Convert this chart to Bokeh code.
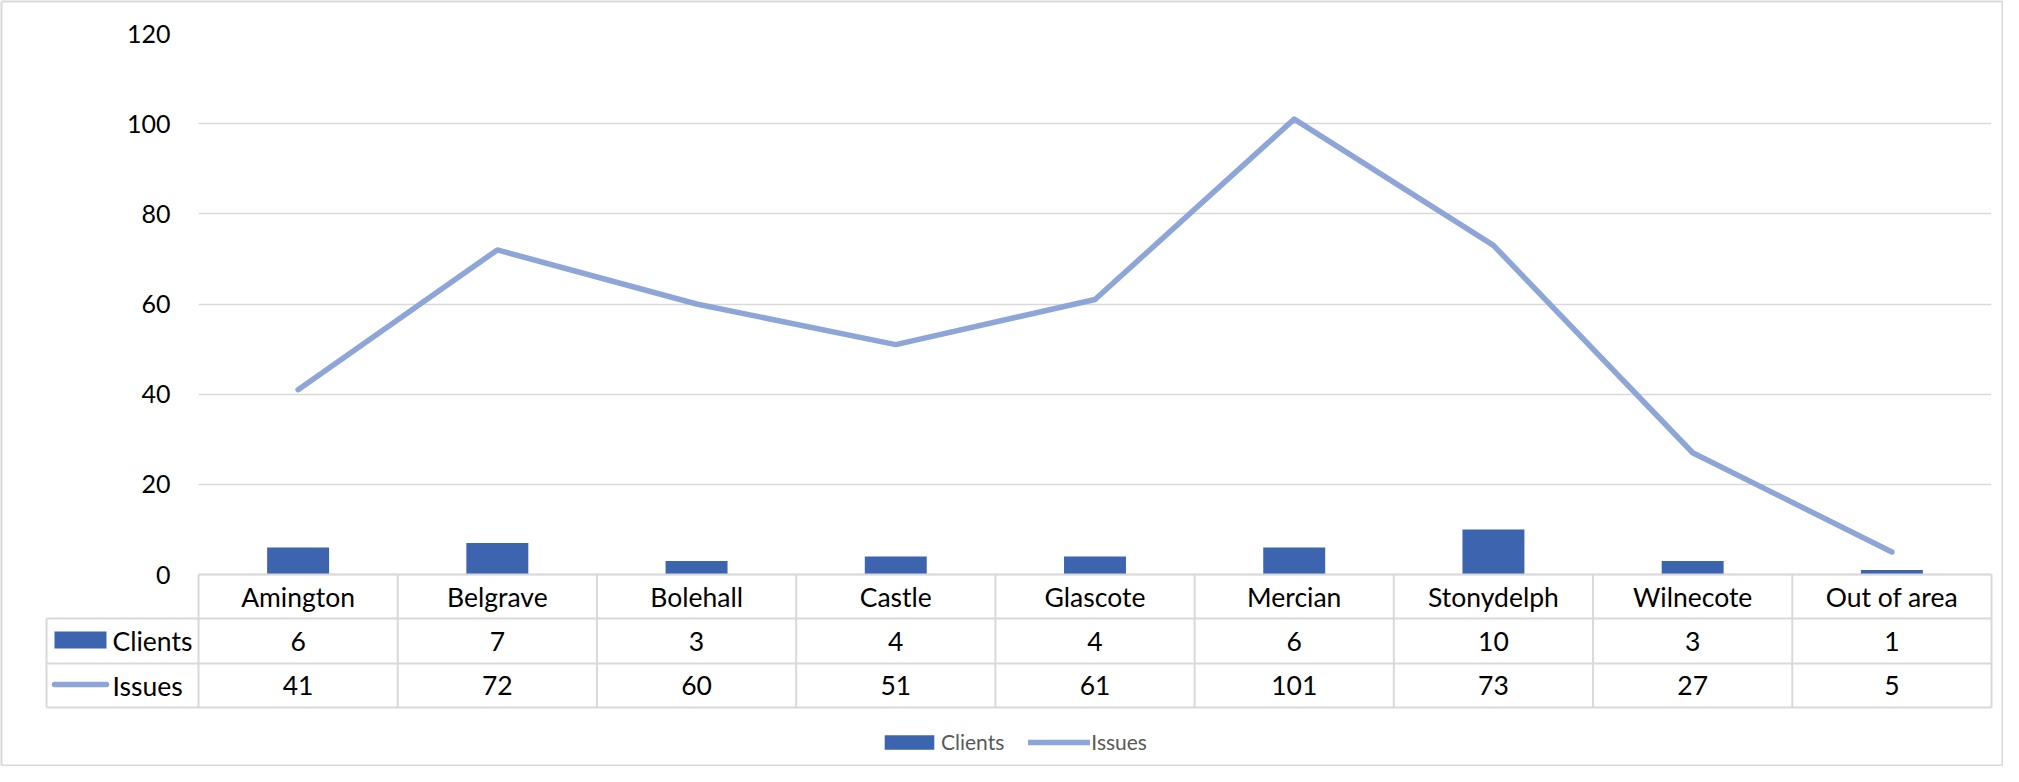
from bokeh.plotting import figure
from bokeh.models import Range1d, FixedTicker, Legend, LegendItem, ColumnDataSource
from bokeh.core.properties import value
from bokeh.embed import file_html
from bokeh.resources import INLINE

# ---------------- data ----------------
categories = ["Amington", "Belgrave", "Bolehall", "Castle", "Glascote",
              "Mercian", "Stonydelph", "Wilnecote", "Out of area"]
clients = [6, 7, 3, 4, 4, 6, 10, 3, 1]
issues = [41, 72, 60, 51, 61, 101, 73, 27, 5]
y_ticks = [0, 20, 40, 60, 80, 100, 120]
series_names = ["Clients", "Issues"]

# ---------------- styles ----------------
BAR_COLOR = "#3D64AE"
LINE_COLOR = "#8EA5D7"
GRID_COLOR = "#D9D9D9"
FONT = "Lato"
TXT = "#000000"
LEG_TXT = "#595959"
LW = 5.5

# ---------------- layout (px) ----------------
W, H = 2003, 766
FL, FR, FT = 198, 1991, 33        # frame left / right / top
ZERO = 574                         # y of value 0
YMAX = 120
n = len(categories)
ppu_y = (ZERO - FT) / YMAX
ppu_x = (FR - FL) / n
y_start = YMAX - (H - FT) / ppu_y


def xd(px):
    return (px - FL) / ppu_x


def yd(py):
    return (ZERO - py) / ppu_y


ROWS = [574, 618, 663, 707]        # table row boundaries
COL0 = 46                          # left edge of series-name column

p = figure(width=W, height=H, output_backend="svg", toolbar_location=None,
           x_range=Range1d(0, n), y_range=Range1d(y_start, YMAX),
           min_border_left=FL, min_border_right=W - FR,
           min_border_top=FT, min_border_bottom=0,
           x_axis_type=None)
p.outline_line_color = None
p.background_fill_color = "white"
p.border_fill_color = "white"

# y axis & grid
p.yaxis.ticker = FixedTicker(ticks=y_ticks)
p.yaxis.axis_line_color = None
p.yaxis.major_tick_line_color = None
p.yaxis.minor_tick_line_color = None
p.yaxis.major_tick_out = 0
p.yaxis.major_tick_in = 0
p.yaxis.minor_tick_out = 0
p.yaxis.major_label_standoff = 28
p.yaxis.major_label_text_font = FONT
p.yaxis.major_label_text_font_size = "25px"
p.yaxis.major_label_text_color = TXT
p.ygrid.ticker = FixedTicker(ticks=y_ticks)
p.ygrid.grid_line_color = GRID_COLOR
p.ygrid.grid_line_width = 1.5
p.xgrid.visible = False

centers = [i + 0.5 for i in range(n)]
src = ColumnDataSource(dict(x=centers, cat=categories, clients=clients, issues=issues,
                            clients_s=[str(v) for v in clients],
                            issues_s=[str(v) for v in issues]))

bar_r = p.vbar(x="x", top="clients", bottom=0, width=0.311, source=src,
               fill_color=BAR_COLOR, line_color=BAR_COLOR, line_width=0)
line_r = p.line(x="x", y="issues", source=src, line_color=LINE_COLOR,
                line_width=LW, line_cap="round", line_join="round")

# ---------------- data table ----------------
x0s, y0s, x1s, y1s = [], [], [], []
x0s.append(0); x1s.append(n); y0s.append(yd(ROWS[0])); y1s.append(yd(ROWS[0]))
for r in ROWS[1:]:
    x0s.append(xd(COL0)); x1s.append(n); y0s.append(yd(r)); y1s.append(yd(r))
for k in range(n + 1):
    x0s.append(k); x1s.append(k); y0s.append(yd(ROWS[0])); y1s.append(yd(ROWS[-1]))
x0s.append(xd(COL0)); x1s.append(xd(COL0)); y0s.append(yd(ROWS[1])); y1s.append(yd(ROWS[-1]))
p.segment(x0=x0s, y0=y0s, x1=x1s, y1=y1s, line_color=GRID_COLOR,
          line_width=2, level="overlay")

row_mid = [yd((ROWS[i] + ROWS[i + 1]) / 2) for i in range(3)]
common = dict(source=src, text_font=value(FONT), text_font_size="26.5px",
              text_color=TXT, text_align="center", text_baseline="middle",
              level="overlay")
p.text(x="x", y=row_mid[0], text="cat", **common)
p.text(x="x", y=row_mid[1] - 0.1, text="clients_s", **common)
p.text(x="x", y=row_mid[2] - 0.1, text="issues_s", **common)

# series name column with keys
p.quad(left=xd(54), right=xd(106), top=yd(631), bottom=yd(648),
       fill_color=BAR_COLOR, line_color=None, level="overlay")
p.segment(x0=xd(54), x1=xd(106), y0=yd(684), y1=yd(684), line_color=LINE_COLOR,
          line_width=LW, line_cap="round", level="overlay")
p.text(x=[xd(112), xd(112)], y=[row_mid[1] - 0.1, row_mid[2] - 0.1], text=series_names,
       text_font=value(FONT), text_font_size="26.5px", text_color=TXT,
       text_align="left", text_baseline="middle", level="overlay")

# ---------------- bottom legend ----------------
legend = Legend(items=[LegendItem(label=series_names[0], renderers=[bar_r]),
                       LegendItem(label=series_names[1], renderers=[line_r])],
                orientation="horizontal", location=(680, 12),
                glyph_width=62, glyph_height=18, label_height=20,
                label_text_font=FONT, label_text_font_size="21px",
                label_text_color=LEG_TXT, label_standoff=1, spacing=24,
                padding=0, margin=0, border_line_alpha=0,
                background_fill_alpha=0)
p.add_layout(legend)

# chart-area border along the canvas edges
bx0, bx1, by0, by1 = xd(1), xd(W - 1), yd(1), yd(H - 1)
p.segment(x0=[bx0, bx0, bx0, bx1], y0=[by0, by1, by0, by0],
          x1=[bx1, bx1, bx0, bx1], y1=[by0, by1, by1, by1],
          line_color=GRID_COLOR, line_width=2, level="overlay")

open("out.html", "w").write(file_html(p, INLINE))
